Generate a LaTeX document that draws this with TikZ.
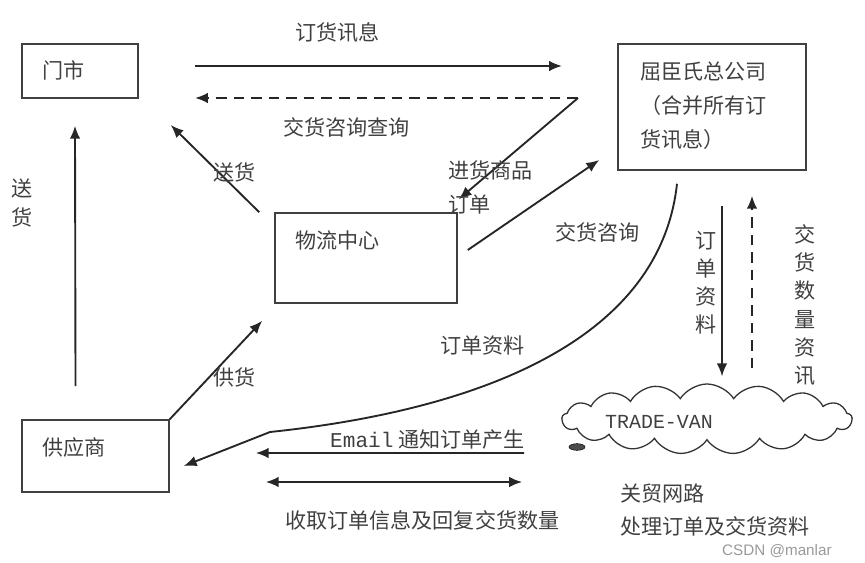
\documentclass[tikz,border=0pt]{standalone}
\usepackage{fontspec}
\newfontfamily\cjk{Noto Sans CJK SC}
\newfontfamily\mono{Liberation Mono}
\newfontfamily\wmark{Liberation Sans}
\usetikzlibrary{arrows.meta,shapes.symbols,fit,calc}
\tikzset{
  box/.style={draw=black!75,line width=1.3pt,inner sep=0pt},
  txt/.style={font=\cjk\fontsize{18}{29}\selectfont,text=black!75,inner sep=0pt,anchor=west,align=left},
  vtxt/.style={font=\cjk\fontsize{18}{24}\selectfont,text=black!75,inner sep=0pt,align=center},
  arr/.style={-{Latex[length=11pt,width=9pt]},line width=1.6pt,draw=black!85},
  arr_d/.style={arr,dash pattern=on 9pt off 6pt},
  arr_2/.style={{Latex[length=11pt,width=9pt]}-{Latex[length=11pt,width=9pt]},line width=1.6pt,draw=black!85},
}
\begin{document}
\begin{tikzpicture}[x=0.03cm,y=-0.03cm]
  \useasboundingbox (0,0) rectangle (865,563);

  % boxes
  \node[box,fit={(22,44) (138,98)}] (shop) {};
  \node[box,fit={(618,44) (806,170)}] (hq) {};
  \node[box,fit={(275,213) (457,303)}] (dc) {};
  \node[box,fit={(22,420) (169,492)}] (sup) {};
  \node[cloud,cloud puffs=17,cloud puff arc=115,aspect=4.3,draw=black!80,line width=1.1pt,
    minimum width=8.7cm,minimum height=2.1cm,inner sep=0pt] (van) at (707,419) {};
  \draw[fill=black!70] (577,447) ellipse [x radius=0.24cm,y radius=0.1cm];

  \node[txt] (shop_t) at (42,70) {门市};
  \node[txt] (hq_t) at (640,106) {屈臣氏总公司\\（合并所有订\\货讯息）};
  \node[txt] (dc_t) at (295,240) {物流中心};
  \node[txt] (sup_t) at (42,447) {供应商};
  \node[txt,font=\mono\fontsize{17}{18}\selectfont] (van_t) at (605,422) {TRADE-VAN};

  % top links
  \coordinate (o1) at (195,66);
  \coordinate (o2) at (562,66);
  \coordinate (turn) at (578,98);
  \coordinate (d2) at (195,98);
  \draw[arr] (o1) -- (o2);
  \draw[arr_d] (turn) -- (d2);
  \draw[arr] (turn) -- ($(dc.north east)+(1,-13)$);
  \draw[arr] ($(dc.east)+(10,-8)$) -- ($(hq.west)+(-18,53)$);

  % left side
  \draw[arr] ($(dc.north west)+(-15,0)$) -- ($(shop.east)+(32,54)$);
  \draw[arr] ($(sup.north)+(-20,-33)$) -- ($(shop.south)+(-5,27)$);
  \draw[arr] (sup.north east) -- ($(dc.south west)+(-12,17)$);

  % order data
  \draw[arr] ($(hq.south)+(-35,13)$) .. controls (660,340) and (480,410) .. (270,432)
    -- ($(sup.east)+(14,10)$);
  \draw[arr] ($(van.west)+(-37,34)$) -- ($(sup.east)+(86,-3)$);
  \draw[arr_2] ($(sup.east)+(96,26)$) -- ($(van.west)+(-39,63)$);
  \draw[arr] ($(hq.south)+(10,35)$) -- ($(van.north)+(15,-7)$);
  \draw[arr_d] ($(van.north)+(45,-15)$) -- ($(hq.south)+(40,25)$);

  % labels
  \node[txt] (l_order) at (295,33) {订货讯息};
  \node[txt] (l_query) at (283,127) {交货咨询查询};
  \node[txt] (l_buy) at (448,187) {进货商品\\订单};
  \node[txt] (l_ask) at (555,232) {交货咨询};
  \node[txt] (l_send) at (213,172) {送货};
  \node[vtxt] (l_send2) at (22,203) {送\\货};
  \node[txt] (l_supply) at (213,377) {供货};
  \node[txt] (l_data) at (440,346) {订单资料};
  \node[txt] (l_mail) at (330,440) {{\mono Email} 通知订单产生};
  \node[txt] (l_recv) at (285,520) {收取订单信息及回复交货数量};
  \node[vtxt] (l_data2) at (706,283) {订\\单\\资\\料};
  \node[vtxt] (l_qty) at (805,305) {交\\货\\数\\量\\资\\讯};
  \node[txt] (l_net) at (620,510) {关贸网路\\处理订单及交货资料};
  \node[txt,font=\wmark\fontsize{13}{16}\selectfont,text=black!40] (mark) at (722,551) {CSDN @manlar};
\end{tikzpicture}
\end{document}
